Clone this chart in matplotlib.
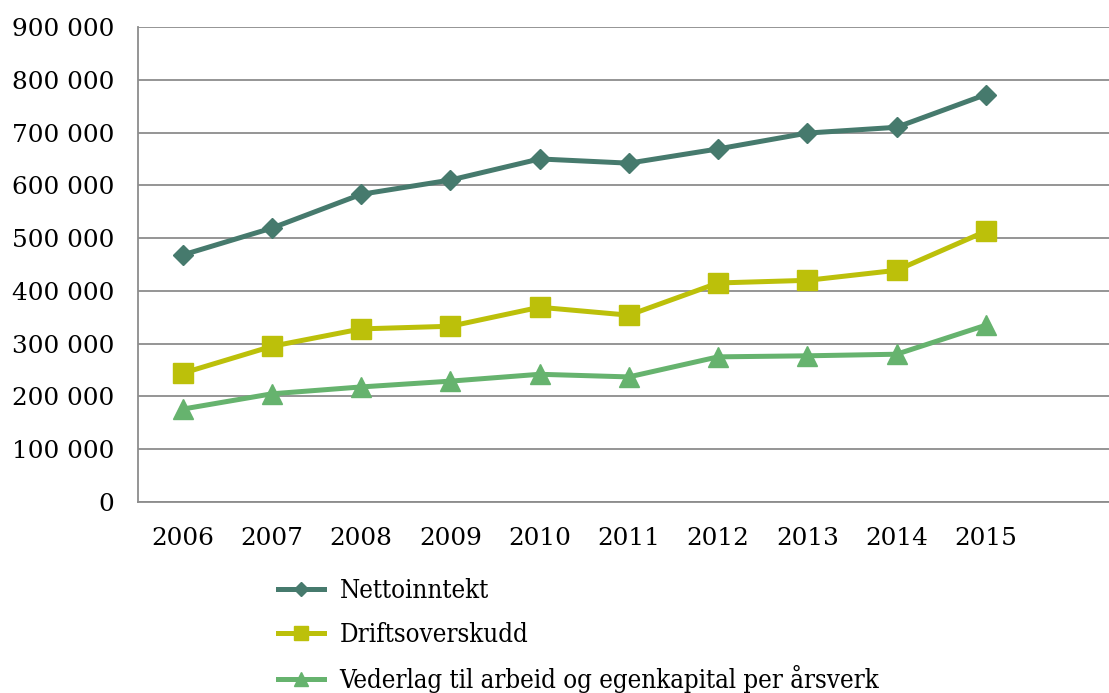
import matplotlib
matplotlib.use("Agg")
import numpy as np
from matplotlib import pyplot as plt
from matplotlib.font_manager import FontProperties

years = ["2006", "2007", "2008", "2009", "2010", "2011", "2012", "2013", "2014", "2015"]
nettoinntekt = [468000, 519000, 583000, 610000, 650000, 642000, 669000, 699000, 710000, 772000]
driftsoverskudd = [244000, 295000, 328000, 333000, 369000, 354000, 415000, 420000, 439000, 513000]
vederlag = [176000, 205000, 218000, 229000, 242000, 237000, 275000, 277000, 280000, 335000]

plt.rcParams['font.family'] = ['DejaVu Serif']

fig = plt.figure(figsize=(11.09, 6.93), dpi=100)
ax = fig.add_axes([138 / 1109, 1 - 502 / 693, 1 - 138 / 1109, (502 - 27) / 693])

x = np.arange(len(years))
ax.plot(x, nettoinntekt, color='#467a6d', lw=3.6, marker='D', ms=10, label='Nettoinntekt')
ax.plot(x, driftsoverskudd, color='#bcc00a', lw=3.6, marker='s', ms=14, label='Driftsoverskudd')
ax.plot(x, vederlag, color='#66b36e', lw=3.6, marker='^', ms=14,
        label='Vederlag til arbeid og egenkapital per årsverk')

ax.set_xlim(-0.5, 10.38)
ax.set_ylim(0, 900000)
ax.set_yticks(np.arange(0, 900001, 100000))
ax.set_yticklabels([f"{v:,}".replace(",", " ") for v in range(0, 900001, 100000)])
ax.set_xticks(x)
ax.set_xticklabels(years)
ax.tick_params(axis='both', length=0, labelsize=17.8)
ax.tick_params(axis='y', pad=17)
ax.tick_params(axis='x', pad=18)

ax.grid(axis='y', color='#8c8c8c', lw=1.3)
ax.set_axisbelow(True)
for side in ['top', 'right']:
    ax.spines[side].set_visible(False)
for side in ['left', 'bottom']:
    ax.spines[side].set_color('#8c8c8c')
    ax.spines[side].set_linewidth(1.3)

legend_font = FontProperties(family='DejaVu Serif', stretch='condensed', size=18.5)
fig.legend(loc='upper left', bbox_to_anchor=(278 / 1109, 1 - 578 / 693), frameon=False,
           prop=legend_font, handlelength=1.8, handletextpad=0.6, labelspacing=0.72,
           borderpad=0, borderaxespad=0, markerscale=0.7)

fig.savefig("out.png", dpi=100)
